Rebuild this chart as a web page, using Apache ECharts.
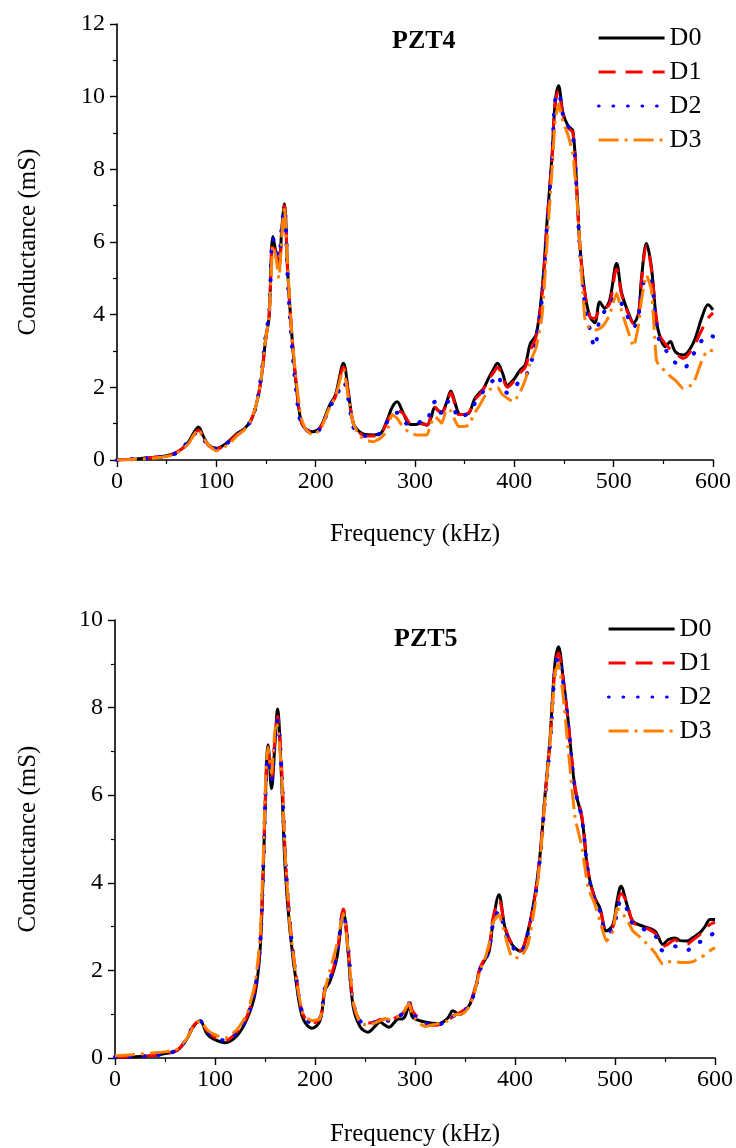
<!DOCTYPE html>
<html>
<head>
<meta charset="utf-8">
<script src="https://cdn.jsdelivr.net/npm/echarts@6/dist/echarts.min.js"></script>
<style>
html,body{margin:0;padding:0;background:#fff;}
#chart{width:736px;height:1148px;}
</style>
</head>
<body>
<div id="chart"></div>
<script>
// ---------- DATA ----------
var seriesNames = ['D0', 'D1', 'D2', 'D3'];
var xTicks = [0, 100, 200, 300, 400, 500, 600];

// PZT4 (top panel)
var freq4 = [0,20,40,55,65,72,78,82,87,92,100,108,115,122,128,135,140,145,150,153,157,160,163,166,168.5,172,176,180,185,190,197,205,214,220,228,233,238,244,250,258,265,272,277,282,288,295,301,306,312,316,320,324,327,332,336,340,344,348,354,360,365,369,375,379,383,388,393,399,406,411,416,422,428,433,438,441,444.5,449,454,459,463,466,471,476,481,486,491,496,503,508,515,520,525,528,533,538,543,547,552,557,562,570,580,589,595,600];
var pzt4_D0 = [0,0.03,0.08,0.15,0.3,0.5,0.78,0.91,0.65,0.42,0.32,0.42,0.58,0.75,0.85,1.1,1.5,2.2,3.4,3.9,6.15,5.7,5.35,6.4,7.05,5.1,3.45,2.2,1.1,0.85,0.78,0.92,1.5,1.8,2.66,1.85,1.0,0.78,0.7,0.69,0.72,1.1,1.45,1.6,1.3,0.98,0.98,1.02,0.96,1.15,1.45,1.35,1.33,1.6,1.9,1.6,1.28,1.25,1.28,1.68,1.85,1.97,2.3,2.5,2.66,2.4,2.06,2.2,2.48,2.62,3.2,3.45,4.7,6.6,8.4,9.8,10.3,9.55,9.2,9.05,7.4,5.9,4.6,3.95,3.78,4.35,4.18,4.4,5.41,4.6,4.04,3.78,4.04,5.0,5.96,5.3,3.85,3.35,3.12,3.26,2.98,2.89,3.21,3.94,4.27,4.13];
var pzt4_D1 = [0,0.03,0.08,0.15,0.3,0.48,0.72,0.82,0.62,0.4,0.3,0.4,0.56,0.73,0.84,1.1,1.5,2.2,3.4,3.9,6.0,5.6,5.3,6.3,7.0,5.1,3.45,2.2,1.1,0.85,0.76,0.9,1.45,1.75,2.55,1.8,1.0,0.75,0.66,0.66,0.7,1.05,1.3,1.35,1.28,1.0,0.96,1.0,0.96,1.2,1.45,1.35,1.3,1.55,1.85,1.55,1.25,1.25,1.3,1.65,1.8,1.95,2.25,2.4,2.55,2.3,2.0,2.15,2.4,2.55,3.0,3.4,4.6,6.5,8.3,9.8,10.15,9.5,9.15,9.0,7.35,5.9,4.6,3.95,3.9,4.15,4.18,4.3,5.25,4.55,4.0,3.75,4.0,4.9,5.9,5.25,3.9,3.4,3.2,3.05,2.95,2.8,3.1,3.6,3.9,4.05];
var pzt4_D2 = [0,0.03,0.07,0.14,0.28,0.55,0.72,0.75,0.6,0.35,0.3,0.4,0.56,0.72,0.84,1.1,1.5,2.3,3.5,4.0,6.1,5.8,5.6,6.5,6.9,4.9,3.2,2.0,1.0,0.85,0.72,0.88,1.45,1.7,2.15,1.65,0.9,0.72,0.66,0.65,0.75,1.05,1.25,1.3,1.1,0.95,1.0,1.05,1.05,1.45,1.6,1.3,1.3,1.6,1.6,1.35,1.15,1.2,1.3,1.55,1.75,1.9,2.1,2.2,2.35,2.0,1.85,1.95,2.2,2.3,2.6,3.3,4.5,6.5,8.3,9.9,10.1,9.5,9.2,8.9,7.3,5.8,4.3,3.6,3.1,3.9,4.1,4.3,4.5,4.3,3.9,3.65,4.0,4.6,5.05,4.9,3.7,3.2,3.04,2.85,2.68,2.52,2.9,3.3,3.45,3.4];
var pzt4_D3 = [0,0.02,0.06,0.13,0.27,0.45,0.72,0.85,0.6,0.42,0.25,0.35,0.5,0.7,0.82,1.1,1.5,2.2,3.4,3.9,5.9,5.6,5.0,6.2,7.0,5.2,3.5,2.3,1.2,0.85,0.68,0.85,1.45,1.75,2.5,1.7,1.0,0.68,0.55,0.5,0.6,0.8,1.25,1.15,0.9,0.75,0.69,0.69,0.69,1.0,1.19,1.1,1.01,1.4,1.35,1.1,0.92,0.92,0.96,1.3,1.5,1.7,1.93,1.98,2.0,1.8,1.7,1.6,1.88,2.2,2.7,3.1,4.0,6.0,8.0,9.3,9.8,9.3,8.95,8.4,7.2,5.87,3.9,3.6,3.58,3.62,3.75,4.0,4.59,4.1,3.5,3.12,3.7,4.4,5.09,4.68,2.75,2.55,2.45,2.3,2.2,1.97,2.1,2.75,3.03,3.0];

// PZT5 (bottom panel)
var freq5 = [0,20,40,50,62,72,78,85,92,98,110,122,132,140,145,148,151,153,156.5,160,162.5,166.5,170,175,182,188,197,205,210,215,222,228.3,233,238,245,253,260,265,270,274,279,283,287,290,294,297,300,305,310,316,322,328,333,338,342,346,350,355,360,365,369,374,378,384,390,397,405,413,420,425,430,435,440,443.5,448,453,460,467,473,480,485,491.5,498,502,506,512,518,528,540,548,553,560,565,572,578,585,590,595,600];
var pzt5_D0 = [0.02,0.03,0.06,0.1,0.17,0.44,0.7,0.85,0.55,0.44,0.35,0.51,0.89,1.46,2.44,4.1,6.37,7.15,6.15,7.2,7.97,6.4,4.41,2.9,1.6,0.9,0.68,0.85,1.55,1.75,2.3,3.35,2.44,1.2,0.72,0.59,0.72,0.82,0.75,0.7,0.8,0.89,0.89,0.95,1.19,0.95,0.89,0.85,0.82,0.8,0.78,0.82,0.92,1.08,1.02,1.0,1.08,1.23,1.55,2.05,2.2,2.42,3.1,3.73,2.97,2.59,2.44,2.9,3.73,4.63,5.99,7.28,9.02,9.39,8.71,7.73,6.15,5.46,4.26,3.65,3.42,2.9,3.05,3.58,3.92,3.5,3.12,3.01,2.9,2.59,2.7,2.74,2.68,2.67,2.75,2.86,3.0,3.16,3.16];
var pzt5_D1 = [0.02,0.03,0.06,0.1,0.18,0.45,0.72,0.85,0.62,0.5,0.4,0.6,0.95,1.6,2.6,4.2,6.3,7.0,6.4,7.3,7.8,6.7,4.8,3.1,1.75,1.0,0.8,0.9,1.6,1.8,2.4,3.4,2.6,1.3,0.85,0.8,0.82,0.88,0.88,0.85,0.9,0.95,1.0,1.1,1.32,1.1,1.0,0.88,0.8,0.75,0.75,0.8,0.85,0.95,1.0,1.05,1.12,1.25,1.6,2.05,2.25,2.5,3.2,3.6,3.0,2.6,2.45,2.9,3.7,4.6,5.95,7.2,8.9,9.25,8.65,7.7,6.2,5.5,4.3,3.6,3.4,2.9,3.0,3.45,3.75,3.55,3.1,3.0,2.85,2.55,2.6,2.7,2.62,2.6,2.7,2.82,2.95,3.05,3.1];
var pzt5_D2 = [0.02,0.03,0.06,0.1,0.18,0.45,0.72,0.84,0.62,0.5,0.4,0.58,0.93,1.58,2.55,4.15,6.3,7.0,6.35,7.25,7.7,6.6,4.7,3.05,1.7,1.0,0.8,0.9,1.6,1.8,2.4,3.3,2.55,1.3,0.85,0.78,0.82,0.88,0.86,0.85,0.9,0.95,1.0,1.08,1.25,1.05,0.95,0.86,0.8,0.75,0.75,0.8,0.85,0.95,1.0,1.03,1.1,1.22,1.55,2.0,2.2,2.45,3.05,3.35,2.9,2.55,2.4,2.85,3.65,4.55,5.9,7.15,8.85,9.15,8.6,7.65,6.15,5.45,4.25,3.55,3.35,2.85,2.95,3.3,3.6,3.4,3.05,2.95,2.8,2.45,2.5,2.55,2.5,2.45,2.6,2.65,2.7,2.8,2.85];
var pzt5_D3 = [0.05,0.08,0.12,0.14,0.2,0.45,0.7,0.85,0.65,0.55,0.45,0.65,1.0,1.7,2.7,4.4,6.6,7.1,6.5,7.5,7.6,6.5,4.7,3.0,1.7,1.0,0.85,0.9,1.55,2.0,2.6,3.3,2.5,1.3,0.8,0.75,0.8,0.85,0.9,0.88,0.92,0.95,1.0,1.1,1.25,1.0,0.9,0.78,0.72,0.75,0.78,0.82,0.85,0.95,1.0,1.0,1.05,1.2,1.55,2.0,2.2,2.6,3.1,3.27,2.8,2.3,2.29,2.6,3.5,4.5,5.9,7.2,8.8,9.0,8.3,7.1,5.5,4.8,3.9,3.5,3.12,2.67,2.9,3.42,3.35,3.15,2.9,2.7,2.4,2.14,2.2,2.2,2.18,2.18,2.2,2.29,2.35,2.45,2.52];

// ---------- STYLES ----------
var FONT = '"Liberation Serif", "Times New Roman", serif';
var colors = ['#000000', '#ff0000', '#0000ff', '#ff8000'];
var lineTypes = ['solid', [17, 10], [0.5, 14], [20, 6, 3, 6]];
var widths = [3, 3, 4, 3];
var caps = ['butt', 'butt', 'round', 'butt'];

function pairs(xs, ys) {
  var out = [];
  for (var i = 0; i < xs.length; i++) out.push([xs[i], ys[i]]);
  return out;
}

var panels = [
  {freq: freq4, data: [pzt4_D0, pzt4_D1, pzt4_D2, pzt4_D3], ymax: 12, title: 'PZT4'},
  {freq: freq5, data: [pzt5_D0, pzt5_D1, pzt5_D2, pzt5_D3], ymax: 10, title: 'PZT5'}
];

var grids = [
  {left: 117, right: 23, top: 24, height: 436},
  {left: 115, right: 21, top: 620, height: 441}
];

var axisCommon = {
  axisLine: {show: true, lineStyle: {color: '#000', width: 1.6}},
  axisTick: {show: true, inside: false, length: 7, lineStyle: {color: '#000', width: 1.4}},
  minorTick: {show: true, splitNumber: 2, length: 4, lineStyle: {color: '#000', width: 1.2}},
  splitLine: {show: false},
  axisLabel: {color: '#000', fontFamily: FONT, fontSize: 24},
  nameTextStyle: {color: '#000', fontFamily: FONT, fontSize: 25}
};

function merge(a, b) { var o = {}; for (var k in a) o[k] = a[k]; for (var k2 in b) o[k2] = b[k2]; return o; }

var xAxes = [], yAxes = [], series = [], titles = [];
panels.forEach(function (p, gi) {
  xAxes.push(merge(axisCommon, {
    type: 'value', gridIndex: gi, min: xTicks[0], max: xTicks[xTicks.length - 1], interval: 100,
    name: 'Frequency (kHz)', nameLocation: 'middle', nameGap: gi === 0 ? 62 : 64,
    axisLabel: merge(axisCommon.axisLabel, {margin: 10})
  }));
  yAxes.push(merge(axisCommon, {
    type: 'value', gridIndex: gi, min: 0, max: p.ymax, interval: 2,
    name: 'Conductance (mS)', nameLocation: 'middle', nameGap: gi === 0 ? 76 : 74,
    axisLabel: merge(axisCommon.axisLabel, {margin: 12})
  }));
  for (var s = 0; s < 4; s++) {
    series.push({
      name: seriesNames[s], type: 'line', xAxisIndex: gi, yAxisIndex: gi,
      data: pairs(p.freq, p.data[s]), symbol: 'none',
      smooth: s === 3 ? 0.15 : 0.35,
      lineStyle: {color: colors[s], width: widths[s], type: lineTypes[s], cap: caps[s]},
      itemStyle: {color: colors[s]}, z: 2 + s, animation: false
    });
  }
  titles.push({
    text: p.title, left: gi === 0 ? 387 : 389, top: gi === 0 ? 23 : 621,
    textStyle: {fontFamily: FONT, fontSize: 26, fontWeight: 'bold', color: '#000'}
  });
});

function legendAt(left, top) {
  return {
    orient: 'vertical', left: left, top: top, itemWidth: 66, itemHeight: 14, itemGap: 8,
    data: seriesNames, itemStyle: {opacity: 0}, lineStyle: {width: 3.2},
    textStyle: {fontFamily: FONT, fontSize: 26, color: '#000'},
    selectedMode: false
  };
}

var chart = echarts.init(document.getElementById('chart'), null, {renderer: 'canvas'});
chart.setOption({
  backgroundColor: '#fff',
  animation: false,
  title: titles,
  grid: grids,
  xAxis: xAxes,
  yAxis: yAxes,
  legend: [legendAt(592, 20), legendAt(602, 611)],
  series: series
});
</script>
</body>
</html>
